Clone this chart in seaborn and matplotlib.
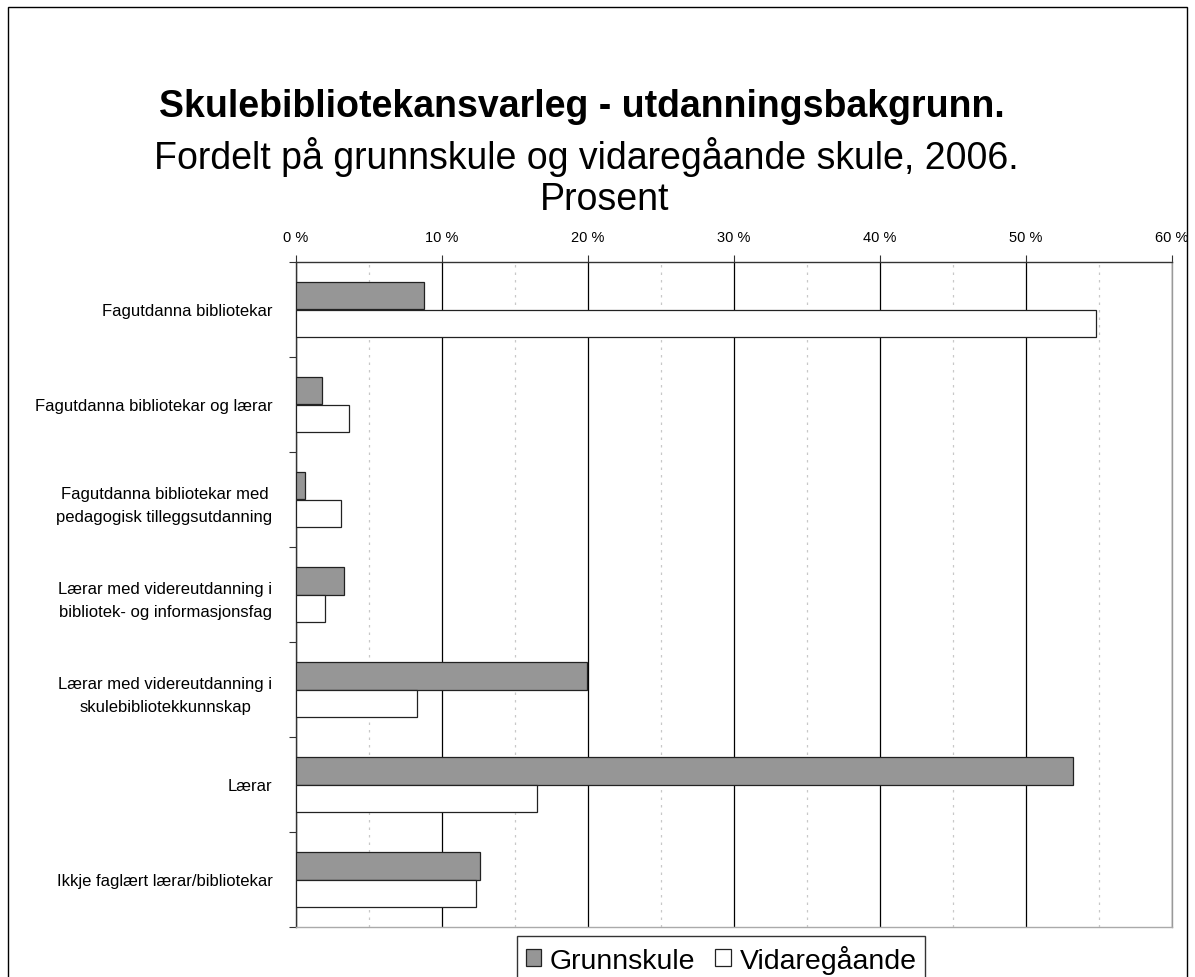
import pandas as pd
import matplotlib
matplotlib.use("Agg")
import matplotlib.pyplot as plt
from matplotlib.ticker import MultipleLocator, FuncFormatter, FixedLocator
from matplotlib.patches import Rectangle
import seaborn as sns

# data (prosent)
categories = [
    "Fagutdanna bibliotekar",
    "Fagutdanna bibliotekar og lærar",
    "Fagutdanna bibliotekar med\npedagogisk tilleggsutdanning",
    "Lærar med videreutdanning i\nbibliotek- og informasjonsfag",
    "Lærar med videreutdanning i\nskulebibliotekkunnskap",
    "Lærar",
    "Ikkje faglært lærar/bibliotekar",
]
grunnskule = [8.8, 1.8, 0.6, 3.3, 19.9, 53.2, 12.6]
vidaregaande = [54.8, 3.6, 3.1, 2.0, 8.3, 16.5, 12.3]
series = ["Grunnskule", "Vidaregåande"]

df = pd.DataFrame({
    "kategori": categories * 2,
    "prosent": grunnskule + vidaregaande,
    "skule": [series[0]] * len(categories) + [series[1]] * len(categories),
})

sns.set_theme(style="white")
plt.rcParams["font.family"] = ["Liberation Sans", "DejaVu Sans"]
plt.rcParams["text.color"] = "black"
plt.rcParams["xtick.color"] = "black"
plt.rcParams["ytick.color"] = "black"

fig = plt.figure(figsize=(11.95, 9.78), dpi=100)
ax = fig.add_axes([296 / 1195, 50 / 978, 876 / 1195, 665 / 978])

sns.barplot(data=df, y="kategori", x="prosent", hue="skule", orient="h",
            palette=["#969696", "white"], edgecolor="#222222", linewidth=0.9,
            width=0.57, ax=ax, zorder=3)

ax.set_xlim(0, 60)
ax.set_ylim(len(categories) - 0.5, -0.5)
ax.set_xlabel("")
ax.set_ylabel("")

# x axis on top
ax.xaxis.set_ticks_position("top")
ax.xaxis.set_label_position("top")
ax.xaxis.set_major_locator(MultipleLocator(10))
ax.xaxis.set_minor_locator(MultipleLocator(5))
ax.xaxis.set_major_formatter(FuncFormatter(lambda v, p: f"{int(v)} %"))
ax.tick_params(axis="x", which="major", top=True, bottom=False, length=5,
               width=0.8, color="#333333", labelsize=10.5, labelcolor="black", pad=8)
ax.tick_params(axis="x", which="minor", top=False, bottom=False)
ax.grid(axis="x", which="major", color="black", linewidth=0.9, zorder=0)
ax.grid(axis="x", which="minor", color="#c8c8c8", linewidth=0.9,
        linestyle=(0, (2, 4)), zorder=0)
ax.grid(axis="y", visible=False)

# y ticks: labels at centres, tick marks at category boundaries
ax.tick_params(axis="y", which="major", length=0, labelsize=12, labelcolor="black", pad=17)
ax.yaxis.set_minor_locator(FixedLocator([i + 0.5 for i in range(-1, len(categories))]))
ax.tick_params(axis="y", which="minor", left=True, length=5, width=0.8, color="#333333")
for t in ax.get_yticklabels():
    t.set_multialignment("center")
    t.set_linespacing(1.7)

ax.spines["top"].set_color("#333333")
ax.spines["left"].set_color("#333333")
ax.spines["right"].set_color("#999999")
ax.spines["bottom"].set_color("#aaaaaa")
for s in ax.spines.values():
    s.set_linewidth(1.0)

# legend
handles, labels = ax.get_legend_handles_labels()
ax.legend_.remove()
leg = fig.legend(handles, labels, loc="upper left", ncol=2,
                 bbox_to_anchor=(517 / 1195, 1 - 937 / 978), fontsize=20.5,
                 frameon=True, fancybox=False, shadow=False, edgecolor="black",
                 handlelength=0.55, handleheight=0.55, handletextpad=0.3,
                 columnspacing=0.7, borderpad=0.3, borderaxespad=0)
leg.get_frame().set_linewidth(1.0)

# titles
fig.text(582 / 1195, 1 - 117 / 978, "Skulebibliotekansvarleg - utdanningsbakgrunn.",
         ha="center", va="baseline", fontsize=27, fontweight="bold")
fig.text(586 / 1195, 1 - 169 / 978, "Fordelt på grunnskule og vidaregåande skule, 2006.",
         ha="center", va="baseline", fontsize=27)
fig.text(605 / 1195, 1 - 210 / 978, "Prosent", ha="center", va="baseline", fontsize=27)

# outer chart border
fig.patches.append(Rectangle((8 / 1195, -0.05), 1179 / 1195, 1.05 - 8 / 978,
                             transform=fig.transFigure, fill=False,
                             edgecolor="black", linewidth=1.0))

fig.savefig("out.png", dpi=100, facecolor="white")
